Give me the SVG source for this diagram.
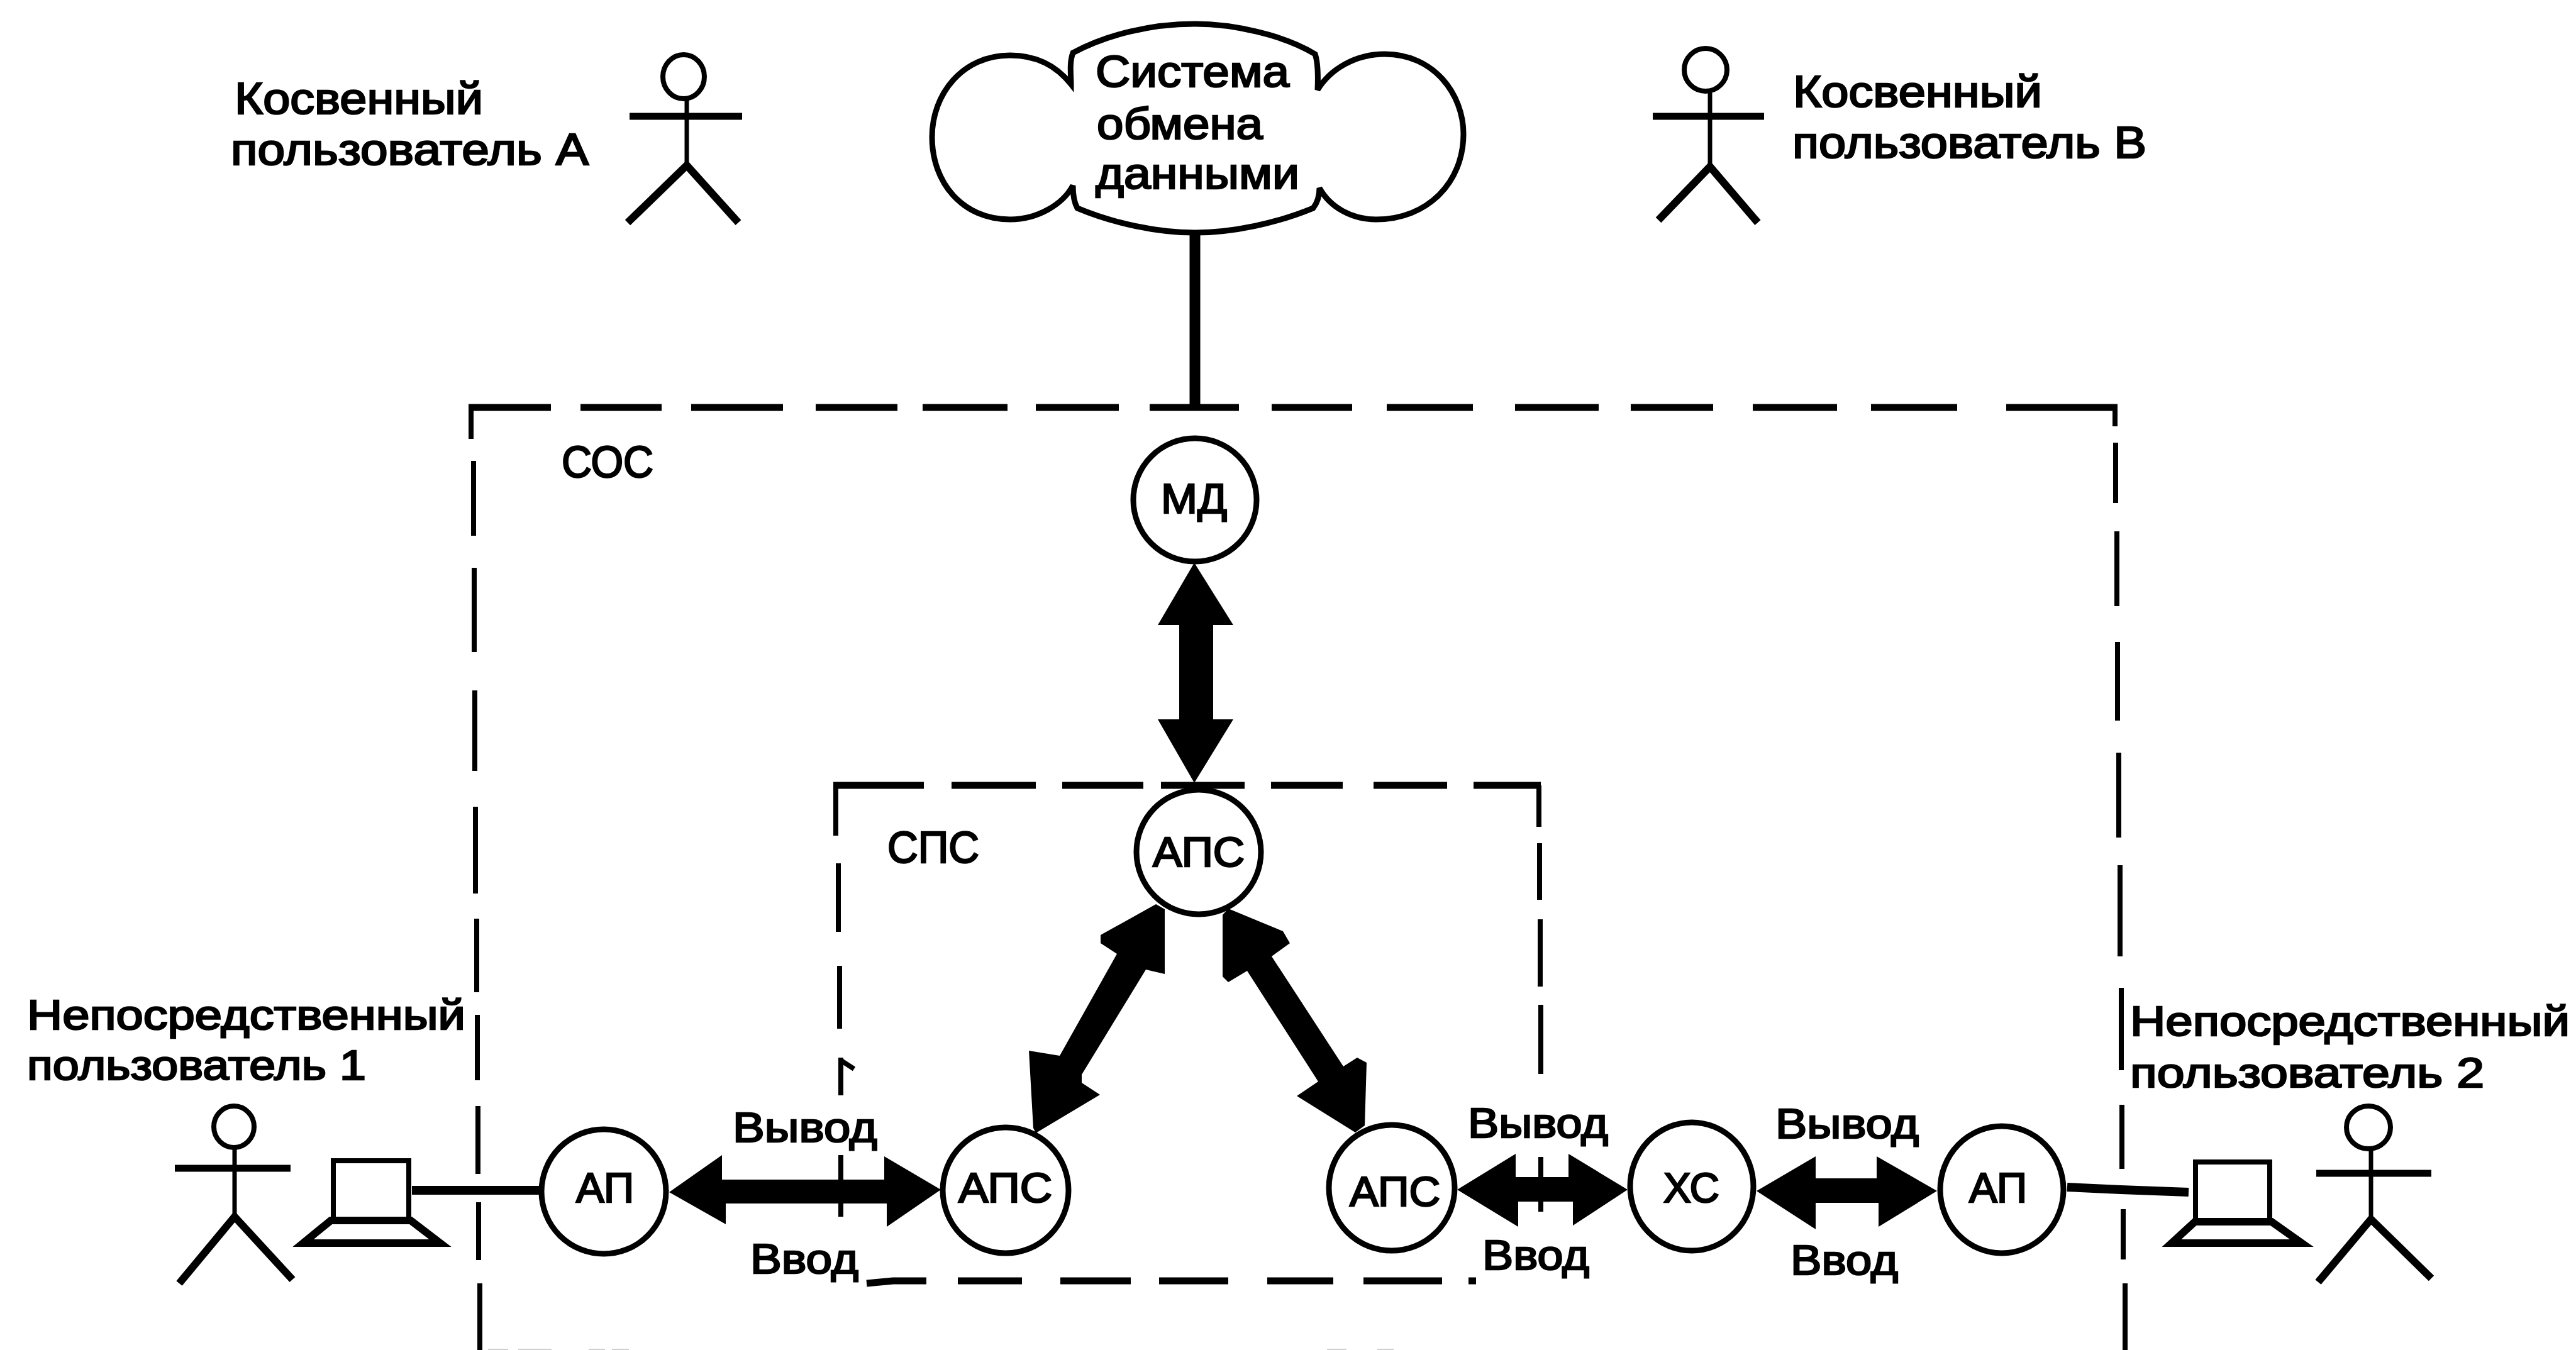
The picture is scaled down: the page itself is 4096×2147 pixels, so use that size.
<svg xmlns="http://www.w3.org/2000/svg" width="4096" height="2147" viewBox="0 0 4096 2147">
<style>
text{font-family:"Liberation Sans",Arial,sans-serif;fill:#000;stroke:#000;stroke-width:2.5}
.t66{font-size:66px}.t70{font-size:70px}
.dash{fill:none;stroke:#000;stroke-width:11}
.dashv{fill:none;stroke:#000;stroke-width:8}
.node{fill:#fff;stroke:#000;stroke-width:9}
.head{fill:#fff;stroke:#000;stroke-width:8}
.body{fill:none;stroke:#000;stroke-width:7}
.arms{fill:none;stroke:#000;stroke-width:11}
.legs{fill:none;stroke:#000;stroke-width:12}
.scr{fill:#fff;stroke:#000;stroke-width:8}
.base{fill:#fff;stroke:#000;stroke-width:12}
.arrow{fill:#000;stroke:none}
.line{fill:none;stroke:#000}
</style>
<rect width="4096" height="2147" fill="#fff"/>
<g id="boundaries">
<path id="boundary-soc-h" class="dash" d="M745,648H876M923,648H1052M1099,648H1245M1297,648H1427M1467,648H1602M1647,648H1779M1828,648H1970M2022,648H2150M2205,648H2342M2409,648H2542M2593,648H2724M2787,648H2921M2975,648H3112M3190,648H3367"/>
<path id="boundary-soc-v" class="dashv" d="M749,648V698M753,733V852M754,903V1037M755,1098V1226M756,1283V1421M758,1461V1578M759,1614V1718M760,1759V1867M761,1912V2004M763,2041V2147M3363,648V678M3364,704V800M3366,845V964M3367,1021V1146M3369,1197V1332M3371,1376V1521M3373,1571V1702M3374,1757V1859M3376,1923V2003M3379,2041V2147"/>
<path id="boundary-sps-h" class="dash" d="M1325,1249H1469M1513,1249H1647M1689,1249H1818M1846,1249H1979M2021,1249H2135M2184,1249H2301M2343,1249H2450M1378,2041L1420,2037H1473M1523,2037H1625M1686,2037H1798M1843,2037H1953M2015,2037H2120M2168,2037H2293M2335,2037H2347"/>
<path id="boundary-sps-v" class="dashv" d="M1329,1249V1329M1333,1373V1482M1335,1536V1636M1337,1682V1742M1338,1687L1358,1700M1337,1837V1935M2447,1249V1315M2448,1341V1431M2449,1462V1569M2450,1598V1708M2450,1840V1927"/>
<path id="scan-edge" d="M776,2146H808M824,2146H877M936,2146H962M973,2146H1000M2110,2146H2141M2190,2146H2216" fill="none" stroke="#cfcfcf" stroke-width="2"/>
</g>
<g id="connectors">
<path class="line" stroke-width="17" d="M1900,374V648"/>
<path class="line" stroke-width="14" d="M655,1893H857"/>
<path class="line" stroke-width="14" d="M3287,1888L3372,1892L3480,1896"/>
<polygon class="arrow" points="1899,895 1961,994 1929,994 1929,1144 1961,1144 1899,1245 1841,1144 1875,1144 1875,994 1841,994"/>
<polygon class="arrow" points="1838,1438 1750,1487 1750,1500 1776,1517 1685,1679 1636,1671 1643,1794 1647,1802 1749,1741 1720,1722 1720,1709 1822,1542 1852,1549 1852,1446"/>
<polygon class="arrow" points="1953,1445 2040,1481 2051,1500 2022,1521 2136,1696 2158,1682 2173,1690 2170,1790 2155,1801 2062,1743 2096,1720 1983,1544 1953,1562 1944,1553 1944,1455"/>
<polygon class="arrow" points="1064,1896 1148,1837 1148,1876 1406,1876 1406,1839 1496,1892 1410,1951 1410,1914 1154,1914 1154,1947"/>
<polygon class="arrow" points="2317,1892 2410,1835 2410,1872 2494,1872 2494,1835 2588,1892 2501,1949 2501,1911 2414,1911 2414,1951"/>
<polygon class="arrow" points="2793,1894 2887,1839 2887,1874 2984,1874 2984,1839 3080,1894 2987,1951 2987,1913 2887,1913 2887,1955"/>
</g>
<g id="cloud">
<path d="M1703,134C1680,105 1650,88 1606,88C1530,88 1482,150 1482,218C1482,290 1530,349 1606,349C1650,349 1690,325 1706,295C1706,310 1708,322 1713,331C1770,355 1840,370 1900,370C1960,370 2030,355 2088,331C2095,322 2098,310 2098,299C2115,330 2150,349 2188,349C2270,349 2327,290 2327,213C2327,150 2280,86 2202,86C2155,86 2115,110 2095,143C2096,120 2096,100 2091,86C2040,55 1960,38 1900,38C1830,38 1760,55 1706,84C1700,100 1703,120 1703,134Z" fill="#fff" stroke="#000" stroke-width="9" stroke-linejoin="miter"/>
<text class="t70" x="1742" y="138" textLength="308" lengthAdjust="spacingAndGlyphs">Система</text>
<text class="t70" x="1744" y="221" textLength="264" lengthAdjust="spacingAndGlyphs">обмена</text>
<text class="t70" x="1742" y="300" textLength="324" lengthAdjust="spacingAndGlyphs">данными</text>
</g>
<g id="actor-a">
<ellipse class="head" cx="1087" cy="122" rx="33" ry="35"/>
<path class="body" d="M1092,157V263"/><path class="arms" d="M1001,185H1180"/><path class="legs" d="M998,354L1092,263L1174,354"/>
<text class="t70" x="373" y="181" textLength="395" lengthAdjust="spacingAndGlyphs">Косвенный</text>
<text class="t70" x="367" y="262" textLength="569" lengthAdjust="spacingAndGlyphs">пользователь А</text>
</g>
<g id="actor-b">
<ellipse class="head" cx="2712" cy="111" rx="34" ry="34"/>
<path class="body" d="M2719,145V265"/><path class="arms" d="M2628,185H2805"/><path class="legs" d="M2637,350L2719,265L2795,354"/>
<text class="t70" x="2851" y="170" textLength="396" lengthAdjust="spacingAndGlyphs">Косвенный</text>
<text class="t70" x="2850" y="251" textLength="563" lengthAdjust="spacingAndGlyphs">пользователь В</text>
</g>
<g id="actor-1">
<ellipse class="head" cx="372" cy="1792" rx="32" ry="33"/>
<path class="body" d="M373,1825V1935"/><path class="arms" d="M278,1858H462"/><path class="legs" d="M285,2041L373,1935L465,2035"/>
<text class="t66" x="43" y="1637" textLength="697" lengthAdjust="spacingAndGlyphs">Непосредственный</text>
<text class="t66" x="43" y="1717" textLength="539" lengthAdjust="spacingAndGlyphs">пользователь 1</text>
</g>
<g id="actor-2">
<ellipse class="head" cx="3766" cy="1793" rx="35" ry="34"/>
<path class="body" d="M3770,1827V1939"/><path class="arms" d="M3683,1866H3866"/><path class="legs" d="M3686,2039L3770,1939L3866,2033"/>
<text class="t66" x="3387" y="1647" textLength="699" lengthAdjust="spacingAndGlyphs">Непосредственный</text>
<text class="t66" x="3387" y="1729" textLength="563" lengthAdjust="spacingAndGlyphs">пользователь 2</text>
</g>
<g id="terminal-1">
<rect class="scr" x="530" y="1846" width="120" height="95"/>
<path class="base" d="M526,1941H653L700,1977H482Z"/>
</g>
<g id="terminal-2">
<rect class="scr" x="3491" y="1848" width="118" height="95"/>
<path class="base" d="M3490,1943H3612L3660,1977H3453Z"/>
</g>
<g id="md"><circle class="node" cx="1900" cy="795" r="98"/><text class="t66" x="1846" y="816" textLength="105" lengthAdjust="spacingAndGlyphs">МД</text></g>
<g id="aps-top"><circle class="node" cx="1906" cy="1355" r="99"/><text class="t66" x="1833" y="1378" textLength="146" lengthAdjust="spacingAndGlyphs">АПС</text></g>
<g id="aps-left"><circle class="node" cx="1599" cy="1893" r="100"/><text class="t66" x="1524" y="1912" textLength="149" lengthAdjust="spacingAndGlyphs">АПС</text></g>
<g id="aps-right"><circle class="node" cx="2213" cy="1889" r="100"/><text class="t66" x="2146" y="1918" textLength="144" lengthAdjust="spacingAndGlyphs">АПС</text></g>
<g id="ap-left"><circle class="node" cx="960" cy="1895" r="99"/><text class="t66" x="916" y="1912" textLength="92" lengthAdjust="spacingAndGlyphs">АП</text></g>
<g id="xc"><ellipse class="node" cx="2690" cy="1887" rx="98" ry="102"/><text class="t66" x="2645" y="1912" textLength="89" lengthAdjust="spacingAndGlyphs">ХС</text></g>
<g id="ap-right"><ellipse class="node" cx="3183" cy="1892" rx="98" ry="101"/><text class="t66" x="3131" y="1912" textLength="92" lengthAdjust="spacingAndGlyphs">АП</text></g>
<g id="labels">
<text class="t70" x="893" y="759" textLength="146" lengthAdjust="spacingAndGlyphs">СОС</text>
<text class="t70" x="1411" y="1372" textLength="146" lengthAdjust="spacingAndGlyphs">СПС</text>
<text class="t66" x="1165" y="1816" textLength="230" lengthAdjust="spacingAndGlyphs">Вывод</text>
<text class="t66" x="1193" y="2025" textLength="172" lengthAdjust="spacingAndGlyphs">Ввод</text>
<text class="t66" x="2334" y="1809" textLength="223" lengthAdjust="spacingAndGlyphs">Вывод</text>
<text class="t66" x="2357" y="2019" textLength="170" lengthAdjust="spacingAndGlyphs">Ввод</text>
<text class="t66" x="2823" y="1810" textLength="228" lengthAdjust="spacingAndGlyphs">Вывод</text>
<text class="t66" x="2847" y="2027" textLength="171" lengthAdjust="spacingAndGlyphs">Ввод</text>
</g>
</svg>
